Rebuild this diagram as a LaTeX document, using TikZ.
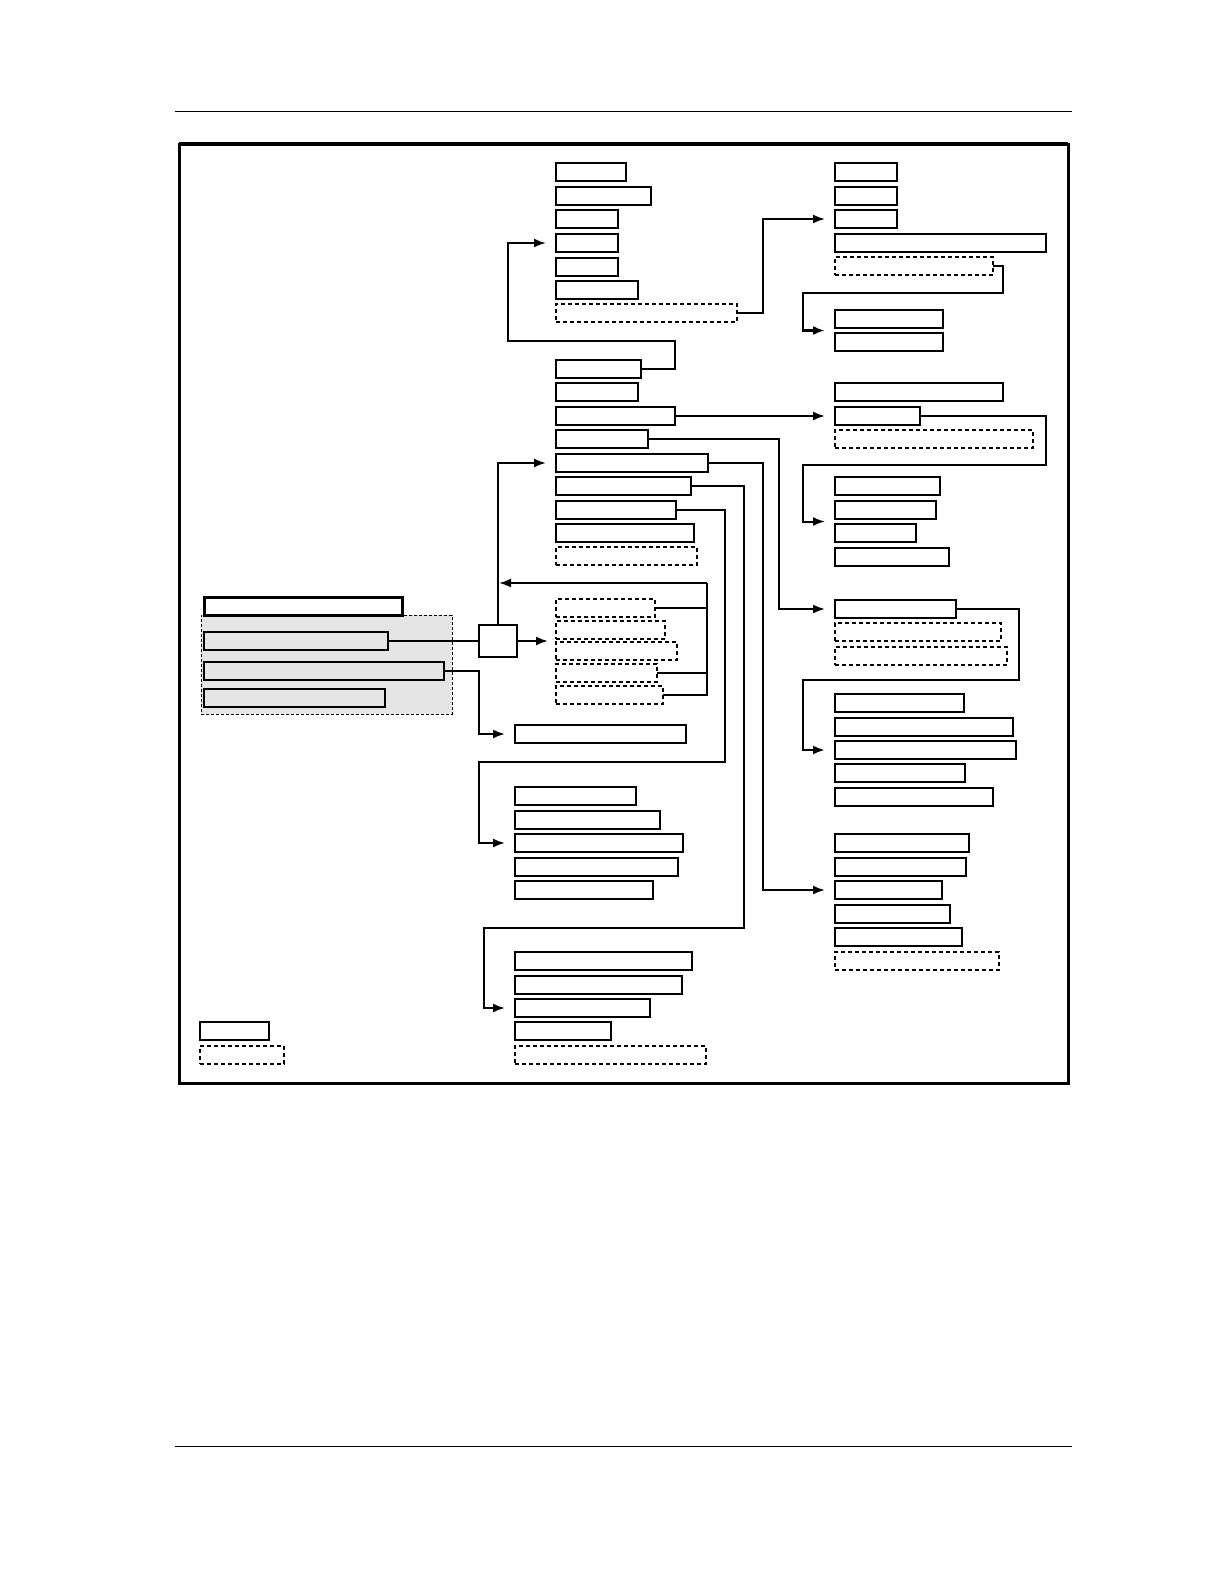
\documentclass[tikz,border=0pt]{standalone}
\usetikzlibrary{arrows.meta, positioning, calc}

\begin{document}
\begin{tikzpicture}[x=1pt, y=-1pt, >={Latex[length=12pt,width=9pt]}]
  \tikzstyle{bx}=[draw, line width=2pt, anchor=north west, minimum height=18pt, inner sep=0pt, outer sep=0pt]
  \tikzstyle{dbx}=[bx, dash pattern=on 4pt off 3pt]
  \tikzstyle{gbx}=[bx, fill=gray!20]
  \tikzstyle{link}=[line width=2pt]
  \tikzstyle{arr}=[link, ->, shorten >=10pt]

  \useasboundingbox (0,0) rectangle (1224,1584);

  % page rules and frame
  \draw[line width=1pt] (175,112) -- (1072,112);
  \draw[line width=1pt] (175,1446) -- (1072,1446);
  \draw[line width=3pt] (179,144) rectangle (1068,1083);
  \draw[line width=4.5pt] (179,144) -- (1068,144);

  % column A
  \node[bx, minimum width=70pt] (a1) at (556,163) {};
  \node[bx, minimum width=95pt] (a2) at (556,187) {};
  \node[bx, minimum width=62pt] (a3) at (556,210) {};
  \node[bx, minimum width=62pt] (a4) at (556,234) {};
  \node[bx, minimum width=62pt] (a5) at (556,258) {};
  \node[bx, minimum width=82pt] (a6) at (556,281) {};
  \node[dbx, minimum width=181pt] (a7) at (556,304) {};

  % column B
  \node[bx, minimum width=62pt] (b1) at (835,163) {};
  \node[bx, minimum width=62pt] (b2) at (835,187) {};
  \node[bx, minimum width=62pt] (b3) at (835,210) {};
  \node[bx, minimum width=211pt] (b4) at (835,234) {};
  \node[dbx, minimum width=158pt] (b5) at (835,257) {};
  \node[bx, minimum width=108pt] (b6) at (835,310) {};
  \node[bx, minimum width=108pt] (b7) at (835,333) {};

  % column C
  \node[bx, minimum width=85pt] (c1) at (556,360) {};
  \node[bx, minimum width=82pt] (c2) at (556,383) {};
  \node[bx, minimum width=119pt] (c3) at (556,407) {};
  \node[bx, minimum width=92pt] (c4) at (556,430) {};
  \node[bx, minimum width=152pt] (c5) at (556,454) {};
  \node[bx, minimum width=135pt] (c6) at (556,477) {};
  \node[bx, minimum width=120pt] (c7) at (556,501) {};
  \node[bx, minimum width=138pt] (c8) at (556,524) {};
  \node[dbx, minimum width=141pt] (c9) at (556,547) {};

  % columns D and E
  \node[bx, minimum width=168pt] (d1) at (835,383) {};
  \node[bx, minimum width=85pt] (d2) at (835,407) {};
  \node[dbx, minimum width=198pt] (d3) at (835,430) {};
  \node[bx, minimum width=105pt] (e1) at (835,477) {};
  \node[bx, minimum width=101pt] (e2) at (835,501) {};
  \node[bx, minimum width=81pt] (e3) at (835,524) {};
  \node[bx, minimum width=114pt] (e4) at (835,548) {};

  % columns F and G
  \node[bx, minimum width=121pt] (f1) at (835,600) {};
  \node[dbx, minimum width=166pt] (f2) at (835,623) {};
  \node[dbx, minimum width=172pt] (f3) at (835,647) {};
  \node[bx, minimum width=129pt] (g1) at (835,694) {};
  \node[bx, minimum width=178pt] (g2) at (835,718) {};
  \node[bx, minimum width=181pt] (g3) at (835,741) {};
  \node[bx, minimum width=130pt] (g4) at (835,764) {};
  \node[bx, minimum width=158pt] (g5) at (835,788) {};

  % column H
  \node[bx, minimum width=134pt] (h1) at (835,834) {};
  \node[bx, minimum width=131pt] (h2) at (835,858) {};
  \node[bx, minimum width=107pt] (h3) at (835,881) {};
  \node[bx, minimum width=115pt] (h4) at (835,905) {};
  \node[bx, minimum width=127pt] (h5) at (835,928) {};
  \node[dbx, minimum width=164pt] (h6) at (835,952) {};

  % dashed group K
  \node[dbx, minimum width=99pt] (k1) at (556,599) {};
  \node[dbx, minimum width=109pt] (k2) at (556,621) {};
  \node[dbx, minimum width=121pt] (k3) at (556,642) {};
  \node[dbx, minimum width=101pt] (k4) at (556,664) {};
  \node[dbx, minimum width=107pt] (k5) at (556,686) {};

  % lower middle columns
  \node[bx, minimum width=171pt] (m) at (515,725) {};
  \node[bx, minimum width=121pt] (i1) at (515,787) {};
  \node[bx, minimum width=145pt] (i2) at (515,811) {};
  \node[bx, minimum width=168pt] (i3) at (515,834) {};
  \node[bx, minimum width=163pt] (i4) at (515,858) {};
  \node[bx, minimum width=138pt] (i5) at (515,881) {};
  \node[bx, minimum width=177pt] (j1) at (515,952) {};
  \node[bx, minimum width=167pt] (j2) at (515,976) {};
  \node[bx, minimum width=135pt] (j3) at (515,999) {};
  \node[bx, minimum width=96pt] (j4) at (515,1022) {};
  \node[dbx, minimum width=191pt] (j5) at (515,1046) {};

  % left group
  \node[bx, line width=1pt, dash pattern=on 3pt off 2pt, fill=gray!20, minimum width=251pt, minimum height=99pt] (grp) at (201,615) {};
  \node[bx, line width=3pt, minimum width=198pt] (l0) at (204,597) {};
  \node[gbx, minimum width=184pt] (l1) at (204,632) {};
  \node[gbx, minimum width=240pt] (l2) at (204,662) {};
  \node[gbx, minimum width=181pt] (l3) at (204,689) {};
  \node[bx, line width=1.5pt, fill=white, minimum width=38pt, minimum height=32pt] (jn) at (479,625) {};

  % legend
  \node[bx, minimum width=69pt] (leg1) at (200,1022) {};
  \node[dbx, line width=1.5pt, minimum width=84pt] (leg2) at (200,1046) {};

  % connectors
  \draw[arr] (c1.east) -| (675,341) -| (508,243) -- (a4.west);
  \draw[arr] (a7.east) -- ++(26,0) |- (b3.west);
  \draw[arr, line width=2.5pt] (b5.east) -- ++(10,0) |- (803,293) |- ($(b6.south west)!.5!(b7.north west)$);
  \draw[arr] (c3.east) -- (d2.west);
  \draw[arr] (c4.east) -- ++(131,0) |- (f1.west);
  \draw[arr] (c5.east) -- ++(55,0) |- (h3.west);
  \draw[arr] (c6.east) -- ++(53,0) |- (484,928) |- (j3.west);
  \draw[arr] (c7.east) -- ++(49,0) |- (479,762) |- (i3.west);
  \draw[arr] (d2.east) -- ++(126,0) |- (803,465) |- ($(e2.south west)!.5!(e3.north west)$);
  \draw[arr, line width=2.5pt] (f1.east) -- ++(63,0) |- (803,680) |- (g3.west);

  \draw[link] (l1.east) -- (jn.west);
  \draw[arr, shorten >=8pt] (jn.east) -- (jn.east -| k1.west);
  \draw[arr] (jn.north) |- (c5.west);
  \coordinate (kbus) at (707,583);
  \draw[link] (k1.east) -| (kbus);
  \draw[link, line width=2.5pt] (k4.east) -| (kbus);
  \draw[link] (k5.east) -| (kbus);
  \draw[arr, shorten >=1pt] (kbus) -- (kbus -| jn.north);
  \draw[arr] (l2.east) -- ++(35,0) |- (m.west);
\end{tikzpicture}
\end{document}
